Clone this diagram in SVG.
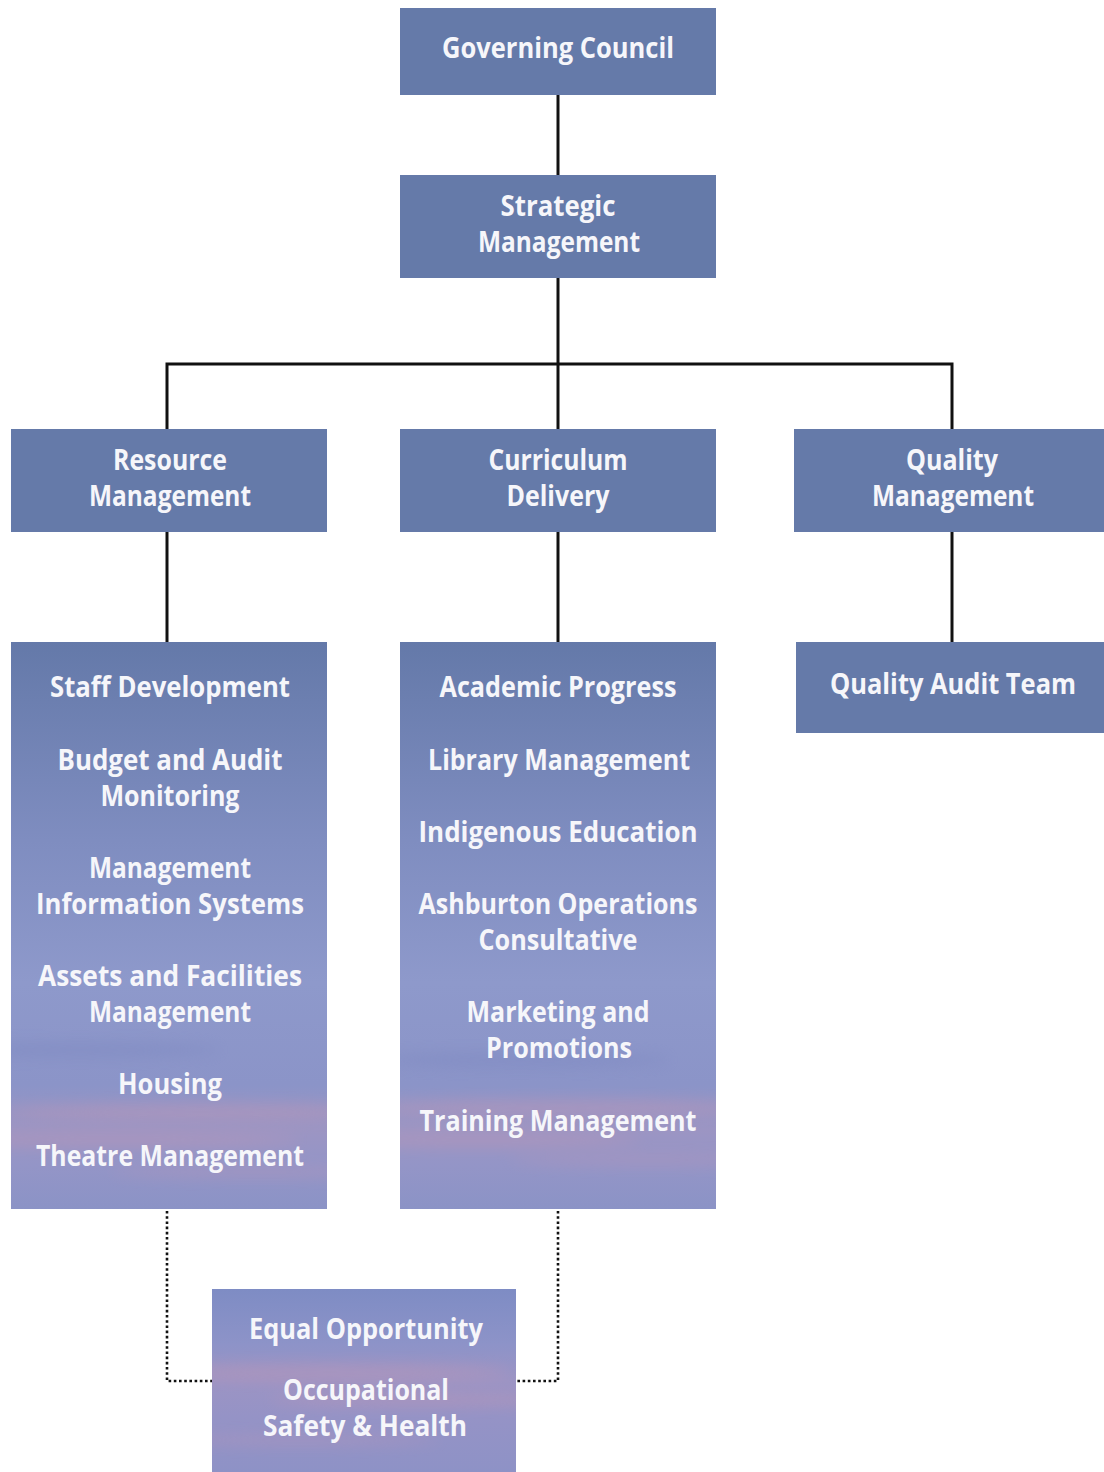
<svg xmlns="http://www.w3.org/2000/svg" width="1104" height="1472" viewBox="0 0 1104 1472">
  <defs>
    <style>
      .box { fill: #657aa9; }
      .lbl { font-family: "Open Sans", "Liberation Sans", sans-serif; font-weight: 700; font-size: 29px; fill: #f6f6fa; text-anchor: middle; }
      .link { stroke: #111; stroke-width: 3; fill: none; }
      .dot { stroke: #111; stroke-width: 2.6; fill: none; stroke-dasharray: 2.6 2.6; }
    </style>
    <!-- sky-like fill used by the tall department boxes -->
    <linearGradient id="sky" x1="0" y1="642" x2="0" y2="1209" gradientUnits="userSpaceOnUse">
      <stop offset="0" stop-color="#6479a9"/>
      <stop offset="0.35" stop-color="#7f8dc0"/>
      <stop offset="0.6" stop-color="#8e99cb"/>
      <stop offset="0.78" stop-color="#8b94c8"/>
      <stop offset="0.86" stop-color="#9c95c3"/>
      <stop offset="0.92" stop-color="#9495c7"/>
      <stop offset="1" stop-color="#8b93c6"/>
    </linearGradient>
    <linearGradient id="sky2" x1="0" y1="1289" x2="0" y2="1472" gradientUnits="userSpaceOnUse">
      <stop offset="0" stop-color="#7e8cc4"/>
      <stop offset="0.3" stop-color="#8d93c8"/>
      <stop offset="0.5" stop-color="#9c94c4"/>
      <stop offset="0.7" stop-color="#9593c6"/>
      <stop offset="1" stop-color="#8e92c6"/>
    </linearGradient>
    <filter id="soft" x="-20%" y="-50%" width="140%" height="200%">
      <feGaussianBlur stdDeviation="7"/>
    </filter>
    <clipPath id="clipL"><rect x="11" y="642" width="316" height="567"/></clipPath>
    <clipPath id="clipC"><rect x="400" y="642" width="316" height="567"/></clipPath>
    <clipPath id="clipE"><rect x="212" y="1289" width="304" height="183"/></clipPath>
  </defs>

  <!-- connectors -->
  <g id="connectors">
    <line class="link" x1="558" y1="95" x2="558" y2="175"/>
    <line class="link" x1="558" y1="278" x2="558" y2="429"/>
    <polyline class="link" points="167,429 167,364 952,364 952,429"/>
    <line class="link" x1="167" y1="532" x2="167" y2="642"/>
    <line class="link" x1="558" y1="532" x2="558" y2="642"/>
    <line class="link" x1="952" y1="532" x2="952" y2="642"/>
    <polyline class="dot" points="167,1211 167,1381 212,1381"/>
    <polyline class="dot" points="558,1211 558,1381 516,1381"/>
  </g>

  <g id="governing-council">
    <rect class="box" x="400" y="8" width="316" height="87"/>
    <text class="lbl" x="558" y="58" textLength="232" lengthAdjust="spacingAndGlyphs">Governing Council</text>
  </g>

  <g id="strategic-management">
    <rect class="box" x="400" y="175" width="316" height="103"/>
    <text class="lbl" x="558" y="216" textLength="115" lengthAdjust="spacingAndGlyphs">Strategic</text>
    <text class="lbl" x="559" y="252" textLength="162" lengthAdjust="spacingAndGlyphs">Management</text>
  </g>

  <g id="resource-management">
    <rect class="box" x="11" y="429" width="316" height="103"/>
    <text class="lbl" x="170" y="470" textLength="114" lengthAdjust="spacingAndGlyphs">Resource</text>
    <text class="lbl" x="170" y="506" textLength="162" lengthAdjust="spacingAndGlyphs">Management</text>
  </g>

  <g id="curriculum-delivery">
    <rect class="box" x="400" y="429" width="316" height="103"/>
    <text class="lbl" x="558" y="470" textLength="139" lengthAdjust="spacingAndGlyphs">Curriculum</text>
    <text class="lbl" x="558" y="506" textLength="103" lengthAdjust="spacingAndGlyphs">Delivery</text>
  </g>

  <g id="quality-management">
    <rect class="box" x="794" y="429" width="310" height="103"/>
    <text class="lbl" x="952" y="470" textLength="92" lengthAdjust="spacingAndGlyphs">Quality</text>
    <text class="lbl" x="953" y="506" textLength="162" lengthAdjust="spacingAndGlyphs">Management</text>
  </g>

  <g id="resource-units">
    <rect x="11" y="642" width="316" height="567" fill="url(#sky)"/>
    <g clip-path="url(#clipL)" filter="url(#soft)" opacity="0.4">
      <ellipse cx="200" cy="1112" rx="200" ry="8" fill="#c497b4"/>
      <ellipse cx="120" cy="1140" rx="180" ry="6" fill="#c497b4"/>
      <ellipse cx="260" cy="1172" rx="150" ry="6" fill="#b595ba"/>
      <ellipse cx="80" cy="1050" rx="140" ry="8" fill="#7a86c0"/>
    </g>
    <text class="lbl" x="170" y="697" textLength="240" lengthAdjust="spacingAndGlyphs">Staff Development</text>
    <text class="lbl" x="170" y="770" textLength="225" lengthAdjust="spacingAndGlyphs">Budget and Audit</text>
    <text class="lbl" x="170" y="806" textLength="139" lengthAdjust="spacingAndGlyphs">Monitoring</text>
    <text class="lbl" x="170" y="878" textLength="162" lengthAdjust="spacingAndGlyphs">Management</text>
    <text class="lbl" x="170" y="914" textLength="268" lengthAdjust="spacingAndGlyphs">Information Systems</text>
    <text class="lbl" x="170" y="986" textLength="264" lengthAdjust="spacingAndGlyphs">Assets and Facilities</text>
    <text class="lbl" x="170" y="1022" textLength="162" lengthAdjust="spacingAndGlyphs">Management</text>
    <text class="lbl" x="170" y="1094" textLength="104" lengthAdjust="spacingAndGlyphs">Housing</text>
    <text class="lbl" x="170" y="1166" textLength="268" lengthAdjust="spacingAndGlyphs">Theatre Management</text>
  </g>

  <g id="curriculum-units">
    <rect x="400" y="642" width="316" height="567" fill="url(#sky)"/>
    <g clip-path="url(#clipC)" filter="url(#soft)" opacity="0.4">
      <ellipse cx="560" cy="1108" rx="200" ry="8" fill="#c497b4"/>
      <ellipse cx="480" cy="1140" rx="160" ry="6" fill="#c497b4"/>
      <ellipse cx="650" cy="1160" rx="140" ry="6" fill="#b595ba"/>
      <ellipse cx="520" cy="1060" rx="150" ry="8" fill="#7a86c0"/>
    </g>
    <text class="lbl" x="558" y="697" textLength="237" lengthAdjust="spacingAndGlyphs">Academic Progress</text>
    <text class="lbl" x="559" y="770" textLength="262" lengthAdjust="spacingAndGlyphs">Library Management</text>
    <text class="lbl" x="558" y="842" textLength="279" lengthAdjust="spacingAndGlyphs">Indigenous Education</text>
    <text class="lbl" x="558" y="914" textLength="279" lengthAdjust="spacingAndGlyphs">Ashburton Operations</text>
    <text class="lbl" x="558" y="950" textLength="159" lengthAdjust="spacingAndGlyphs">Consultative</text>
    <text class="lbl" x="558" y="1022" textLength="183" lengthAdjust="spacingAndGlyphs">Marketing and</text>
    <text class="lbl" x="559" y="1058" textLength="146" lengthAdjust="spacingAndGlyphs">Promotions</text>
    <text class="lbl" x="558" y="1131" textLength="277" lengthAdjust="spacingAndGlyphs">Training Management</text>
  </g>

  <g id="quality-audit-team">
    <rect class="box" x="796" y="642" width="308" height="91"/>
    <text class="lbl" x="953" y="694" textLength="246" lengthAdjust="spacingAndGlyphs">Quality Audit Team</text>
  </g>

  <g id="equity-safety">
    <rect x="212" y="1289" width="304" height="183" fill="url(#sky2)"/>
    <g clip-path="url(#clipE)" filter="url(#soft)" opacity="0.4">
      <ellipse cx="330" cy="1372" rx="180" ry="8" fill="#c497b4"/>
      <ellipse cx="420" cy="1400" rx="150" ry="6" fill="#c497b4"/>
      <ellipse cx="300" cy="1440" rx="140" ry="6" fill="#b595ba"/>
    </g>
    <text class="lbl" x="366" y="1339" textLength="234" lengthAdjust="spacingAndGlyphs">Equal Opportunity</text>
    <text class="lbl" x="366" y="1400" textLength="166" lengthAdjust="spacingAndGlyphs">Occupational</text>
    <text class="lbl" x="365" y="1436" textLength="204" lengthAdjust="spacingAndGlyphs">Safety &amp; Health</text>
  </g>
</svg>
